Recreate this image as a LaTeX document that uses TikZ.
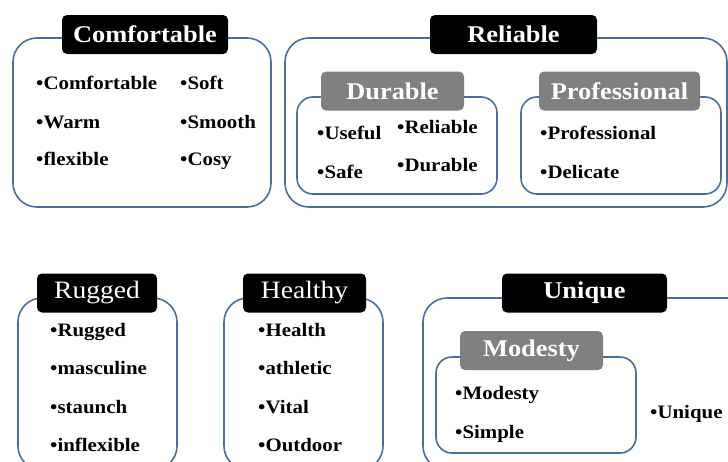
\documentclass[tikz,border=0pt]{standalone}
\usepackage{fontspec}
\setmainfont{Liberation Serif}[FakeStretch=1.1]
\usepackage{xcolor}
\definecolor{frameblue}{HTML}{4A6E9C}

\begin{document}
\begin{tikzpicture}[x=1pt,y=-1pt,
  frame/.style={draw=frameblue,line width=1.6pt,rounded corners=24pt},
  inframe/.style={frame,rounded corners=16pt},
  head/.style={fill=black,text=white,rounded corners=5pt,inner sep=0pt,minimum height=39pt,font=\bfseries\fontsize{24}{28}\selectfont},
  plainhead/.style={head,font=\fontsize{25}{29}\selectfont},
  subhead/.style={head,fill=gray},
  item/.style={anchor=mid west,inner sep=0pt,yshift=-4pt,font=\bfseries\fontsize{19}{22}\selectfont}]
  \clip (0,0) rectangle (728,461);
  \draw[frame] (13,38) rectangle (271,207); \draw[frame] (285,38) rectangle (727,207);
  \draw[inframe] (297,97) rectangle (497,194); \draw[inframe] (521,97) rectangle (721,194);
  \draw[frame] (18,298) rectangle (177,470); \draw[frame] (224,298) rectangle (383,470);
  \draw[frame] (423,298) rectangle (760,470); \draw[inframe] (436,357) rectangle (636,453);
  \node[head,minimum width=166pt] (comf) at (145,34.5) {Comfortable};
  \node[head,minimum width=167pt] (reli) at (513.5,34.5) {Reliable};
  \node[subhead,minimum width=143pt] (dura) at (392.5,91) {Durable};
  \node[subhead,minimum width=161pt] (prof) at (619.5,91) {Professional};
  \node[plainhead,minimum width=120pt] (rugg) at (97,293) {Rugged};
  \node[plainhead,minimum width=123pt] (heal) at (304.5,293) {Healthy};
  \node[head,minimum width=165pt] (uniq) at (584.5,293) {Unique};
  \node[subhead,minimum width=143pt] (mode) at (531.5,350.5) {Modesty};
  \node[item] (c1) at (36,83) {•Comfortable}; \node[item] (c2) at (36,122) {•Warm}; \node[item] (c3) at (36,159) {•flexible};
  \node[item] (c4) at (180,83) {•Soft}; \node[item] (c5) at (180,122) {•Smooth}; \node[item] (c6) at (180,159) {•Cosy};
  \node[item] (d1) at (317,133) {•Useful}; \node[item] (d2) at (317,172) {•Safe};
  \node[item] (d3) at (397,127) {•Reliable}; \node[item] (d4) at (397,165) {•Durable};
  \node[item] (p1) at (540,133) {•Professional}; \node[item] (p2) at (540,172) {•Delicate};
  \node[item] (r1) at (50,330) {•Rugged}; \node[item] (r2) at (50,368) {•masculine};
  \node[item] (r3) at (50,407) {•staunch}; \node[item] (r4) at (50,445) {•inflexible};
  \node[item] (h1) at (258,330) {•Health}; \node[item] (h2) at (258,368) {•athletic};
  \node[item] (h3) at (258,407) {•Vital}; \node[item] (h4) at (258,445) {•Outdoor};
  \node[item] (m1) at (455,393) {•Modesty}; \node[item] (m2) at (455,432) {•Simple};
  \node[item] (u1) at (650,412) {•Unique};
\end{tikzpicture}
\end{document}
